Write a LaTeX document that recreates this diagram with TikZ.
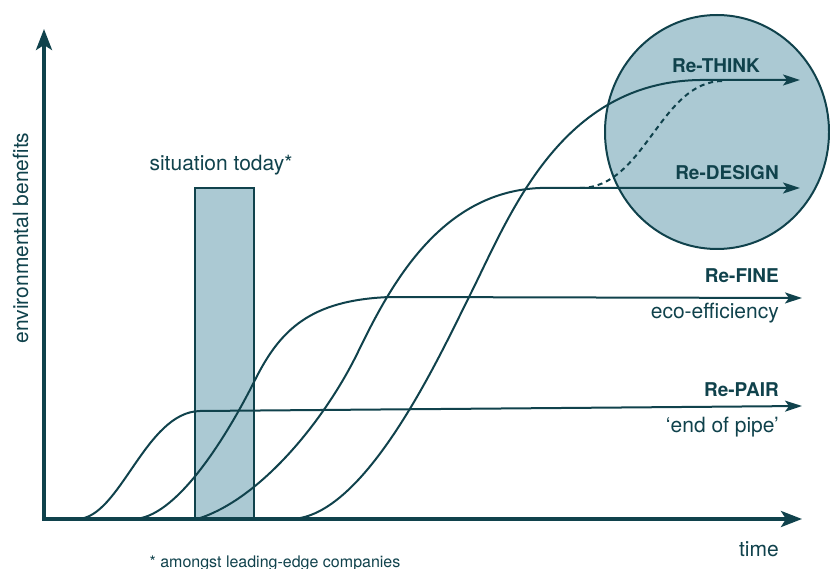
\documentclass[tikz,border=0pt]{standalone}
\usepackage{fontspec}
\setmainfont{TeX Gyre Heros}
\usetikzlibrary{arrows.meta}
\definecolor{ink}{RGB}{16,66,76}
\definecolor{haze}{RGB}{171,201,211}

\begin{document}
\begin{tikzpicture}[x=1pt,y=-1pt,
    curve/.style={ink,line width=2pt},
    trend/.style={curve,-{Stealth[length=17pt,width=11pt,inset=4pt]}},
    axis/.style={ink,line width=3.5pt},
    lbl/.style={text=ink,font=\fontsize{21}{25}\selectfont,inner sep=0pt},
    tag/.style={text=ink,font=\fontsize{19}{23}\selectfont\bfseries,inner sep=0pt}]
  \useasboundingbox (0,0) rectangle (830,569);
  \draw [ink,line width=2pt,fill=haze] (717,132) ellipse [x radius=112, y radius=117];
  \draw [ink,line width=2.5pt,fill=haze] (195,188) rectangle (254,519);
  \node [lbl,anchor=base] (today) at (221,171) {situation today*};
  % Re-PAIR
  \draw [trend] (77,519) .. controls (120,519) and (145,412) .. (200,411) -- (802,406);
  % Re-FINE
  \draw [trend] (133,519) .. controls (175,519) and (225,440) .. (255,380)
    .. controls (280,330) and (310,300) .. (390,297) -- (802,298);
  % Re-DESIGN
  \draw [trend] (197,519) .. controls (260,500) and (325,420) .. (358,352)
    .. controls (390,286) and (440,192) .. (540,188) -- (800,188);
  % Re-THINK
  \draw [trend] (290,519) .. controls (365,519) and (440,355) .. (470,295)
    .. controls (510,215) and (560,82) .. (700,80) -- (800,80);
  \draw [curve,dash pattern=on 5pt off 4pt] (580,188) .. controls (645,188) and (660,81) .. (723,81);
  \coordinate (ytip) at (44,29);
  \coordinate (origin) at (44,519);
  \coordinate (xtip) at (802,519);
  \draw [axis,{Stealth[length=21pt,width=16pt,inset=5pt]}-{Stealth[length=21pt,width=16pt,inset=5pt]}] (ytip) -- (origin) -- (xtip);
  \node [tag,anchor=base] (think) at (716,73) {Re-THINK};
  \node [tag,anchor=base] (design) at (727,180) {Re-DESIGN};
  \node [tag,anchor=base east] (fine) at (779,283) {Re-FINE};
  \node [lbl,anchor=base east] (eco) at (779,319) {eco-efficiency};
  \node [tag,anchor=base east] (pair) at (779,396) {Re-PAIR};
  \node [lbl,anchor=base east] (pipe) at (779,432) {`end of pipe'};
  \node [lbl,anchor=base east] (time) at (779,556) {time};
  \node [lbl,rotate=90,anchor=base] (benefits) at (28,238) {environmental benefits};
  \node [lbl,font=\fontsize{16}{19}\selectfont,anchor=base] (note) at (275,567) {* amongst leading-edge companies};
\end{tikzpicture}
\end{document}
